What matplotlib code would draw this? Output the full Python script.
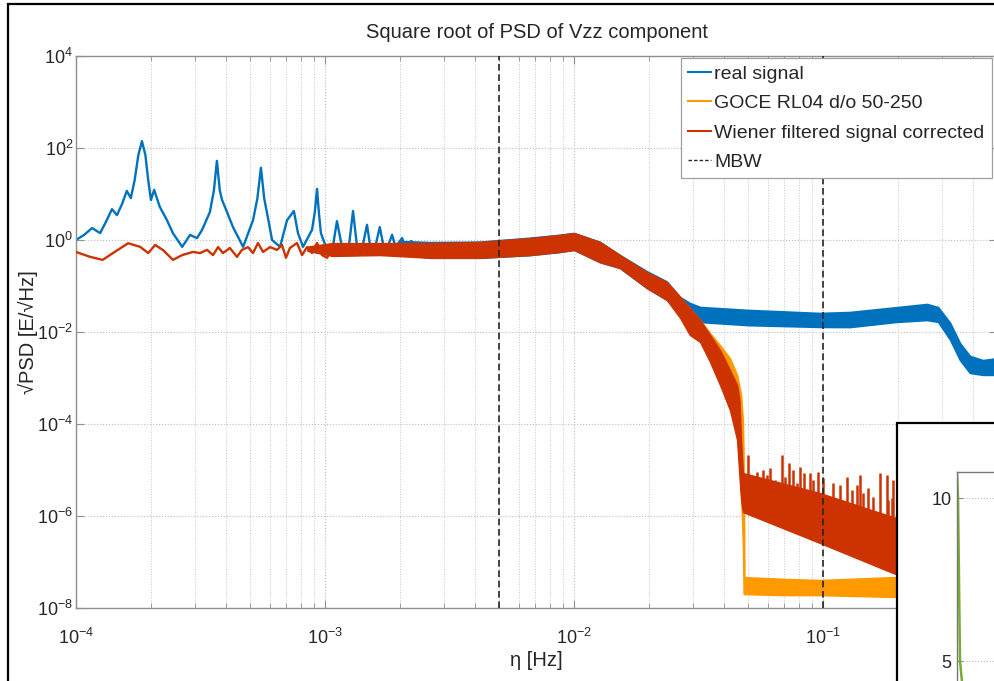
import numpy as np
import matplotlib
matplotlib.use("Agg")
import matplotlib.pyplot as plt
from matplotlib.lines import Line2D
from matplotlib.patches import Rectangle
from matplotlib.ticker import FuncFormatter, LogLocator, NullLocator, NullFormatter

plt.rcParams['font.family'] = ['Liberation Sans', 'DejaVu Sans']
plt.rcParams['mathtext.fontset'] = 'custom'
plt.rcParams['mathtext.rm'] = 'Liberation Sans'

# ---------------- data ----------------
title = "Square root of PSD of Vzz component"
labels = ["real signal", "GOCE RL04 d/o 50-250", "Wiener filtered signal corrected", "MBW"]
mbw = [5e-3, 0.1]

# real signal, low-frequency part (thin line)
blue_f = [1.00e-4, 1.08e-4, 1.16e-4, 1.25e-4, 1.32e-4, 1.395e-4, 1.46e-4, 1.53e-4, 1.60e-4, 1.66e-4,
          1.72e-4, 1.78e-4, 1.84e-4, 1.90e-4, 1.95e-4, 2.00e-4, 2.06e-4, 2.17e-4, 2.32e-4, 2.45e-4,
          2.67e-4, 2.87e-4, 3.06e-4, 3.21e-4, 3.45e-4, 3.58e-4, 3.68e-4, 3.78e-4, 3.86e-4, 4.04e-4,
          4.27e-4, 4.69e-4, 5.14e-4, 5.35e-4, 5.53e-4, 5.70e-4, 5.85e-4, 6.13e-4, 6.60e-4, 7.04e-4,
          7.50e-4, 7.79e-4, 8.16e-4, 8.87e-4, 9.10e-4, 9.29e-4, 9.45e-4, 9.63e-4, 1.02e-3, 1.077e-3,
          1.117e-3, 1.17e-3, 1.25e-3, 1.296e-3, 1.345e-3, 1.42e-3, 1.475e-3, 1.52e-3, 1.60e-3, 1.66e-3,
          1.72e-3, 1.80e-3, 1.86e-3, 1.92e-3, 2.04e-3, 2.10e-3, 2.22e-3, 2.30e-3]
blue_v = [1.0, 1.3, 1.82, 1.41, 2.5, 4.68, 3.47, 6.0, 11.7, 8.13,
          20.0, 70.0, 141.0, 70.0, 20.0, 7.41, 12.3, 5.25, 2.69, 1.41,
          0.71, 1.29, 1.10, 1.66, 4.07, 12.0, 52.5, 12.0, 7.41, 4.07,
          1.91, 0.71, 2.69, 8.0, 37.2, 8.0, 3.89, 1.0, 0.71, 2.69,
          4.27, 1.41, 0.71, 1.66, 4.0, 12.9, 4.0, 1.41, 0.60, 0.75,
          2.57, 0.71, 0.80, 4.27, 0.71, 0.80, 2.14, 0.71, 0.80, 1.91,
          0.71, 0.80, 1.30, 0.70, 1.10, 0.70, 0.95, 0.65]

# real signal, noisy part (lower / upper envelope)
blue_band_f = [2.0e-3, 2.64e-3, 4.19e-3, 6.65e-3, 8.78e-3, 1.0e-2, 1.27e-2, 1.53e-2, 1.96e-2, 2.36e-2,
               2.67e-2, 2.92e-2, 3.21e-2, 5.0e-2, 9.72e-2, 0.128, 0.198, 0.262, 0.290, 0.324,
               0.355, 0.389, 0.439, 0.5]
blue_band_lo = [0.5, 0.41, 0.41, 0.47, 0.55, 0.61, 0.33, 0.246, 0.0906, 0.05,
                0.025, 0.0158, 0.0165, 0.0141, 0.0129, 0.0128, 0.0166, 0.0182, 0.0166, 6.8e-3,
                2.45e-3, 1.29e-3, 1.17e-3, 1.17e-3]
blue_band_hi = [0.95, 0.9, 0.92, 1.12, 1.3, 1.42, 0.91, 0.47, 0.21, 0.125,
                0.0575, 0.0427, 0.035, 0.0302, 0.0259, 0.0272, 0.0347, 0.0407, 0.0347, 0.0158,
                5.75e-3, 3.02e-3, 2.45e-3, 2.69e-3]

# GOCE RL04 d/o 50-250 (lower / upper envelope)
goce_f = [1.07e-3, 1.66e-3, 2.64e-3, 4.19e-3, 6.65e-3, 8.78e-3, 1.0e-2, 1.27e-2, 1.53e-2, 1.96e-2,
          2.36e-2, 2.67e-2, 2.92e-2, 3.21e-2, 3.52e-2, 3.86e-2, 4.23e-2, 4.52e-2, 4.69e-2, 4.77e-2,
          4.80e-2, 4.84e-2, 7.0e-2, 9.72e-2, 0.191, 0.25]
goce_lo = [0.5, 0.5, 0.45, 0.45, 0.5, 0.58, 0.64, 0.35, 0.26, 0.095,
           0.052, 0.0215, 9.0e-3, 6.3e-3, 2.4e-3, 7.5e-4, 2.5e-4, 6e-5, 3e-6, 2e-7,
           2.0e-8, 2.0e-8, 1.9e-8, 1.9e-8, 1.74e-8, 1.74e-8]
goce_hi = [0.8, 0.8, 0.82, 0.87, 1.05, 1.22, 1.35, 0.87, 0.45, 0.195,
           0.118, 0.0565, 0.0333, 0.0182, 9.5e-3, 5.2e-3, 2.7e-3, 1.17e-3, 4.3e-4, 1.2e-4,
           2.0e-5, 4.7e-8, 4.3e-8, 4.07e-8, 4.7e-8, 4.7e-8]

# Wiener filtered signal corrected, low-frequency part (thin line)
wien_f = [1.00e-4, 1.14e-4, 1.28e-4, 1.43e-4, 1.62e-4, 1.81e-4, 1.95e-4, 2.08e-4, 2.24e-4, 2.45e-4,
          2.67e-4, 2.95e-4, 3.15e-4, 3.36e-4, 3.55e-4, 3.72e-4, 3.89e-4, 4.15e-4, 4.43e-4, 4.64e-4,
          4.91e-4, 5.14e-4, 5.38e-4, 5.64e-4, 6.01e-4, 6.42e-4, 6.72e-4, 6.97e-4, 7.23e-4, 7.72e-4,
          8.09e-4, 8.47e-4, 8.87e-4, 9.29e-4, 9.73e-4, 1.02e-3, 1.07e-3]
wien_v = [0.55, 0.43, 0.37, 0.55, 0.85, 0.71, 0.52, 0.78, 0.60, 0.37,
          0.47, 0.55, 0.52, 0.61, 0.47, 0.70, 0.52, 0.67, 0.43, 0.61,
          0.70, 0.52, 0.86, 0.55, 0.70, 0.61, 0.78, 0.41, 0.67, 0.86,
          0.47, 0.70, 0.52, 0.86, 0.47, 0.41, 0.70]

# Wiener filtered signal corrected, noisy part (lower / upper envelope)
wien_band_f = [8.5e-4, 1.07e-3, 1.66e-3, 2.64e-3, 4.19e-3, 6.65e-3, 8.78e-3, 1.0e-2, 1.27e-2, 1.53e-2,
               1.96e-2, 2.36e-2, 2.67e-2, 2.92e-2, 3.21e-2, 3.52e-2, 3.86e-2, 4.23e-2, 4.52e-2, 4.62e-2,
               4.69e-2, 4.77e-2, 9.72e-2, 0.191, 0.25]
wien_band_lo = [0.58, 0.45, 0.47, 0.41, 0.41, 0.47, 0.55, 0.61, 0.33, 0.246,
                0.0906, 0.0497, 0.0201, 8.6e-3, 6.07e-3, 2.23e-3, 7.05e-4, 2.01e-4, 4.49e-5, 7.1e-6,
                2.2e-6, 1.22e-6, 2.59e-7, 5.77e-8, 3.5e-8]
wien_band_hi = [0.72, 0.86, 0.86, 0.86, 0.91, 1.10, 1.29, 1.42, 0.91, 0.47,
                0.201, 0.122, 0.0577, 0.0333, 0.0182, 8.6e-3, 4.06e-3, 1.49e-3, 7.05e-4, 3.3e-4,
                4.5e-5, 8.6e-6, 3.16e-6, 9.5e-7, 6.3e-7]

# Wiener filtered: isolated spikes above the high-frequency floor
spike_f = [0.0500, 0.0524, 0.0543, 0.0553, 0.0574, 0.0596, 0.0612, 0.0641, 0.0684, 0.0703,
           0.0730, 0.0758, 0.0787, 0.0809, 0.0840, 0.0887, 0.0912, 0.0955, 0.100, 0.110,
           0.117, 0.125, 0.131, 0.137, 0.141, 0.145, 0.152, 0.159, 0.169, 0.181,
           0.182, 0.189, 0.191]
spike_v = [2.1e-5, 7.1e-6, 9.1e-6, 5.2e-6, 1.0e-5, 7.8e-6, 1.1e-5, 6.0e-6, 2.1e-5, 7.1e-6,
           1.4e-5, 1.0e-5, 5.2e-6, 1.17e-5, 8.6e-6, 8.6e-6, 6.0e-6, 9.1e-6, 6.8e-6, 5.2e-6,
           4.7e-6, 7.1e-6, 3.7e-6, 4.7e-6, 7.8e-6, 3.2e-6, 4.1e-6, 2.6e-6, 8.6e-6, 7.8e-6,
           2.2e-6, 2.5e-6, 6.0e-6]

# partially visible second figure (bottom right)
inset_x = [0.0, 0.0025, 0.0075, 0.0125]
inset_y = [10.8, 10.0, 5.0, 4.36]

# ---------------- style ----------------
c_blue = '#0072BD'
c_orange = '#FF9900'
c_red = '#CC3300'
c_green = '#77AC30'
c_axis = '#8f8f8f'
c_text = '#262626'

W, H = 995, 681
fig = plt.figure(figsize=(W / 100, H / 100), dpi=100)
fig.patch.set_facecolor('white')

def px(x0, y0, x1, y1):
    return [x0 / W, 1 - y1 / H, (x1 - x0) / W, (y1 - y0) / H]

ax = fig.add_axes(px(76, 56, 997, 608))
ax.set_xscale('log')
ax.set_yscale('log')
ax.set_xlim(1e-4, 0.5)
ax.set_ylim(1e-8, 1e4)
ax.set_axisbelow(True)

# data
ax.fill_between(blue_band_f, blue_band_lo, blue_band_hi, color=c_blue, lw=1.2, edgecolor=c_blue, zorder=2)
l_blue, = ax.plot(blue_f, blue_v, color=c_blue, lw=1.7, zorder=2)
ax.fill_between(goce_f, goce_lo, goce_hi, color=c_orange, lw=1.0, edgecolor=c_orange, zorder=3)
ax.fill_between(wien_band_f, wien_band_lo, wien_band_hi, color=c_red, lw=1.0, edgecolor=c_red, zorder=4)
l_red, = ax.plot(wien_f, wien_v, color=c_red, lw=1.7, zorder=4)
lf = np.log10(wien_band_f)
base = 10 ** np.interp(np.log10(spike_f), lf, np.log10(wien_band_hi))
ax.vlines(spike_f, base * 0.8, spike_v, color=c_red, lw=1.8, zorder=4)
for m in mbw:
    ax.axvline(m, color=c_text, lw=1.2, ls=(0, (4, 2.2)), zorder=5)

# axes styling
yt = [1e-8, 1e-6, 1e-4, 1e-2, 1e0, 1e2, 1e4]
ax.set_yticks(yt)
ax.yaxis.set_minor_locator(NullLocator())
ax.xaxis.set_major_locator(LogLocator(base=10, numticks=20))
ax.xaxis.set_minor_locator(LogLocator(base=10, subs=np.arange(2, 10), numticks=50))
ax.xaxis.set_minor_formatter(NullFormatter())
fmt = FuncFormatter(lambda v, p: r'$\mathregular{10^{%d}}$' % int(round(np.log10(v))))
ax.xaxis.set_major_formatter(fmt)
ax.yaxis.set_major_formatter(fmt)
ax.tick_params(which='both', direction='in', top=True, right=True, color=c_axis,
               labelcolor=c_text, labelsize=13)
ax.tick_params(which='major', length=6, width=0.8)
ax.tick_params(which='minor', length=3.5, width=0.6)
ax.tick_params(axis='x', pad=14)
ax.tick_params(axis='y', pad=2)
for s in ax.spines.values():
    s.set_color(c_axis)
    s.set_linewidth(1.0)
ax.grid(True, which='major', ls=':', color='#bdbdbd', lw=0.8)
ax.grid(True, which='minor', axis='x', ls=':', color='#c8c8c8', lw=0.7)

ax.set_title(title, fontsize=14.5, color=c_text, pad=13)
ax.set_xlabel('η [Hz]', fontsize=14.5, color=c_text)
ax.set_ylabel('√PSD [E/√Hz]', fontsize=14.5, color=c_text)
ax.xaxis.set_label_coords(0.5, -0.078)
ax.yaxis.set_label_coords(-0.041, 0.5)

handles = [Line2D([], [], color=c_blue, lw=1.5),
           Line2D([], [], color=c_orange, lw=1.5),
           Line2D([], [], color=c_red, lw=1.5),
           Line2D([], [], color=c_text, lw=1.0, ls=(0, (2.5, 1.5)))]
leg = ax.legend(handles, labels, loc='upper right', bbox_to_anchor=(992 / W, 1 - 58 / H),
                bbox_transform=fig.transFigure, borderaxespad=0, fontsize=14,
                handlelength=1.2, handletextpad=0.15, labelspacing=0.6, borderpad=0.38,
                fancybox=False, framealpha=1, edgecolor='#a0a0a0')
leg.get_frame().set_linewidth(0.9)
for t in leg.get_texts():
    t.set_color(c_text)

# outer window frame
fig.add_artist(Rectangle((8 / W, -0.2), 2.0, 1 - 4 / H + 0.2, transform=fig.transFigure,
                         fill=False, edgecolor='black', lw=1.6, zorder=6))
# second figure window (bottom right)
fig.add_artist(Rectangle((897 / W, -0.5), 2.0, 1 - 423 / H + 0.5, transform=fig.transFigure,
                         facecolor='white', edgecolor='black', lw=1.6, zorder=7))
ax2 = fig.add_axes(px(957, 472, 1357, 824), zorder=10)
ax2.plot(inset_x, inset_y, color=c_green, lw=1.8)
ax2.set_xlim(0, 1)
ax2.set_ylim(0, 10.8)
ax2.set_xticks([])
ax2.set_yticks([5, 10])
ax2.tick_params(direction='in', length=4, color=c_axis, labelcolor=c_text, labelsize=13, pad=4)
ax2.grid(True, axis='y', ls=':', color='#bdbdbd', lw=0.8)
for s in ax2.spines.values():
    s.set_color('#777777')
    s.set_linewidth(1.0)

fig.savefig('out.png', dpi=100)
